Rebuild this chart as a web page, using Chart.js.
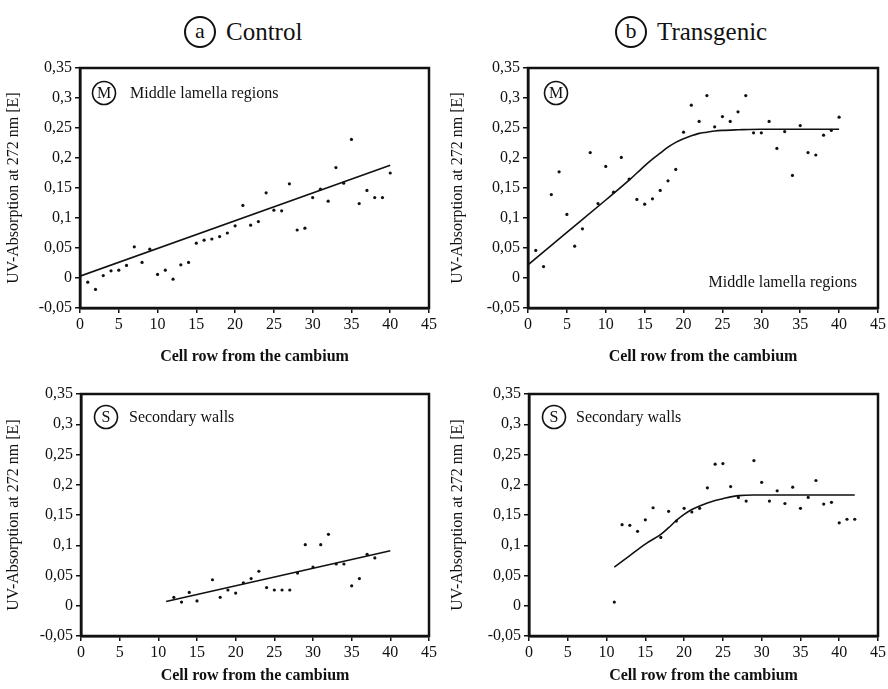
<!DOCTYPE html>
<html>
<head>
<meta charset="utf-8">
<script src="https://cdn.jsdelivr.net/npm/chart.js@4.4.1/dist/chart.umd.min.js"></script>
<style>
  html, body { margin: 0; padding: 0; background: #fff; overflow: hidden; }
  body { width: 888px; height: 689px; position: relative; font-family: "Liberation Serif", "Times New Roman", serif; }
  canvas { position: absolute; }
  .head { position: absolute; top: 14px; font-size: 25px; color: #111; line-height: 36px; }
  .ring { display: inline-block; width: 28px; height: 28px; border: 2px solid #111; border-radius: 50%;
          text-align: center; line-height: 26px; font-size: 22px; margin-right: 10px; vertical-align: 2px; }
</style>
</head>
<body>
<div class="head" style="left:184px"><span class="ring">a</span>Control</div>
<div class="head" style="left:615px"><span class="ring">b</span>Transgenic</div>
<canvas id="cMid" width="444" height="320" style="left:0;top:50px"></canvas>
<canvas id="tMid" width="444" height="320" style="left:444px;top:50px"></canvas>
<canvas id="cSec" width="444" height="313" style="left:0;top:376px"></canvas>
<canvas id="tSec" width="444" height="313" style="left:444px;top:376px"></canvas>
<script>
// tick labels
const xTickLabels = ['0', '5', '10', '15', '20', '25', '30', '35', '40', '45'];
const yTickLabels = ['-0,05', '0', '0,05', '0,1', '0,15', '0,2', '0,25', '0,3', '0,35'];

// (a) control, middle lamella
const ctrlMidRows = [1, 2, 3, 4, 5, 6, 7, 8, 9, 10, 11, 12, 13, 14, 15, 16, 17, 18, 19, 20,
  21, 22, 23, 24, 25, 26, 27, 28, 29, 30, 31, 32, 33, 34, 35, 36, 37, 38, 39, 40];
const ctrlMidValues = [-0.007, -0.019, 0.004, 0.012, 0.013, 0.021, 0.052, 0.026, 0.048, 0.006,
  0.013, -0.002, 0.022, 0.026, 0.058, 0.063, 0.065, 0.069, 0.075, 0.087,
  0.121, 0.088, 0.094, 0.142, 0.113, 0.112, 0.157, 0.080, 0.083, 0.134,
  0.148, 0.128, 0.184, 0.158, 0.231, 0.124, 0.146, 0.134, 0.134, 0.175];
const ctrlMidFitRows = [0, 40];
const ctrlMidFit = [0.003, 0.188];

// (b) transgenic, middle lamella
const trMidRows = [1, 2, 3, 4, 5, 6, 7, 8, 9, 10, 11, 12, 13, 14, 15, 16, 17, 18, 19, 20,
  21, 22, 23, 24, 25, 26, 27, 28, 29, 30, 31, 32, 33, 34, 35, 36, 37, 38, 39, 40];
const trMidValues = [0.046, 0.019, 0.139, 0.177, 0.106, 0.053, 0.082, 0.209, 0.124, 0.186,
  0.143, 0.201, 0.165, 0.131, 0.123, 0.132, 0.146, 0.162, 0.181, 0.243,
  0.288, 0.261, 0.304, 0.252, 0.269, 0.261, 0.277, 0.304, 0.242, 0.242,
  0.261, 0.216, 0.244, 0.171, 0.254, 0.209, 0.205, 0.238, 0.246, 0.268];
const trMidFitRows = [0, 5, 10, 13, 15, 16, 17, 18, 19, 20, 21, 22, 23, 24, 25, 27, 30, 40];
const trMidFit = [0.022, 0.076, 0.130, 0.163, 0.187, 0.198, 0.208, 0.218, 0.226, 0.232,
  0.237, 0.241, 0.243, 0.245, 0.246, 0.247, 0.248, 0.248];

// (a) control, secondary walls
const ctrlSecRows = [12, 13, 14, 15, 17, 18, 19, 20, 21, 22, 23, 24, 25, 26, 27, 28,
  29, 30, 31, 32, 33, 34, 35, 36, 37, 38];
const ctrlSecValues = [0.014, 0.006, 0.022, 0.008, 0.043, 0.014, 0.026, 0.021, 0.038, 0.045,
  0.057, 0.030, 0.026, 0.026, 0.026, 0.054, 0.101, 0.064, 0.101, 0.118,
  0.069, 0.069, 0.033, 0.045, 0.085, 0.079];
const ctrlSecFitRows = [11, 40];
const ctrlSecFit = [0.007, 0.091];

// (b) transgenic, secondary walls
const trSecRows = [11, 12, 13, 14, 15, 16, 17, 18, 19, 20, 21, 22, 23, 24, 25, 26,
  27, 28, 29, 30, 31, 32, 33, 34, 35, 36, 37, 38, 39, 40, 41, 42];
const trSecValues = [0.006, 0.134, 0.133, 0.123, 0.142, 0.162, 0.113, 0.156, 0.140, 0.161,
  0.155, 0.161, 0.195, 0.234, 0.235, 0.197, 0.179, 0.173, 0.240, 0.204,
  0.173, 0.190, 0.169, 0.196, 0.161, 0.179, 0.207, 0.168, 0.171, 0.137, 0.143, 0.143];
const trSecFitRows = [11, 13, 15, 17, 18, 19, 20, 21, 22, 23, 24, 25, 26, 27, 29, 42];
const trSecFit = [0.064, 0.083, 0.102, 0.118, 0.129, 0.141, 0.151, 0.159, 0.165, 0.170,
  0.174, 0.177, 0.180, 0.182, 0.183, 0.183];

const serif = '"Liberation Serif", "Times New Roman", serif';
const toXY = (xs, ys) => xs.map((x, i) => ({ x: x, y: ys[i] }));

// frame around plot + circled letter + panel label
const panelDeco = {
  id: 'panelDeco',
  afterDraw(chart, args, o) {
    const { ctx, chartArea: a } = chart;
    ctx.save();
    ctx.strokeStyle = '#111';
    ctx.lineWidth = 2.5;
    ctx.strokeRect(a.left, a.top, a.right - a.left, a.bottom - a.top);

    const cx = a.left + o.badgeX, cy = a.top + o.badgeY;
    ctx.lineWidth = 1.6;
    ctx.beginPath();
    ctx.arc(cx, cy, 11.5, 0, Math.PI * 2);
    ctx.stroke();
    ctx.fillStyle = '#111';
    ctx.textAlign = 'center';
    ctx.textBaseline = 'middle';
    ctx.font = '16px ' + serif;
    ctx.fillText(o.letter, cx, cy + 1);

    ctx.textAlign = o.labelAlign;
    const lx = o.labelAlign === 'right' ? a.right + o.labelX : a.left + o.labelX;
    const ly = o.labelFromBottom ? a.bottom + o.labelY : a.top + o.labelY;
    ctx.fillText(o.label, lx, ly + 1);
    ctx.restore();
  }
};

function makePanel(id, rows, values, fitRows, fit, deco) {
  const axisTitleFont = { family: serif, size: 16, weight: 'bold' };
  const tickFont = { family: serif, size: 16 };
  new Chart(document.getElementById(id), {
    type: 'scatter',
    data: {
      datasets: [
        {
          data: toXY(rows, values),
          pointRadius: 1.6,
          pointBackgroundColor: '#111',
          pointBorderWidth: 0,
          showLine: false
        },
        {
          data: toXY(fitRows, fit),
          showLine: true,
          pointRadius: 0,
          borderColor: '#111',
          borderWidth: 1.6,
          cubicInterpolationMode: 'monotone'
        }
      ]
    },
    options: {
      responsive: false,
      animation: false,
      layout: { padding: { left: 0, right: 444 - deco.right, top: 18, bottom: 0 } },
      plugins: {
        legend: { display: false },
        tooltip: { enabled: false },
        panelDeco: deco
      },
      scales: {
        x: {
          type: 'linear',
          min: 0,
          max: 45,
          afterFit: s => { s.height = deco.xHeight; },
          ticks: {
            stepSize: 5,
            color: '#111',
            font: tickFont,
            padding: 2,
            maxRotation: 0,
            callback: (v, i) => xTickLabels[i]
          },
          grid: { drawOnChartArea: false, drawTicks: true, tickLength: 5, color: '#111', lineWidth: 1.5 },
          border: { display: true, color: '#111', width: 2.5 },
          title: {
            display: true,
            text: 'Cell row from the cambium',
            color: '#111',
            font: axisTitleFont,
            padding: { top: 10 }
          }
        },
        y: {
          type: 'linear',
          min: -0.05,
          max: 0.35,
          afterFit: s => { s.width = deco.left; },
          ticks: {
            stepSize: 0.05,
            color: '#111',
            font: tickFont,
            padding: 3,
            callback: (v, i) => yTickLabels[i]
          },
          grid: { drawOnChartArea: false, drawTicks: true, tickLength: 5, color: '#111', lineWidth: 1.5 },
          border: { display: true, color: '#111', width: 2.5 },
          title: {
            display: true,
            text: 'UV-Absorption at 272 nm [E]',
            color: '#111',
            font: { family: serif, size: 16 },
            padding: { bottom: 2 }
          }
        }
      }
    },
    plugins: [panelDeco]
  });
}

makePanel('cMid', ctrlMidRows, ctrlMidValues, ctrlMidFitRows, ctrlMidFit, {
  left: 80, right: 429, xHeight: 62,
  letter: 'M', badgeX: 24, badgeY: 25,
  label: 'Middle lamella regions', labelAlign: 'left', labelX: 50, labelY: 25, labelFromBottom: false
});
makePanel('tMid', trMidRows, trMidValues, trMidFitRows, trMidFit, {
  left: 84, right: 434, xHeight: 62,
  letter: 'M', badgeX: 28, badgeY: 25,
  label: 'Middle lamella regions', labelAlign: 'right', labelX: -21, labelY: -26, labelFromBottom: true
});
makePanel('cSec', ctrlSecRows, ctrlSecValues, ctrlSecFitRows, ctrlSecFit, {
  left: 81, right: 429, xHeight: 53,
  letter: 'S', badgeX: 25, badgeY: 23,
  label: 'Secondary walls', labelAlign: 'left', labelX: 48, labelY: 23, labelFromBottom: false
});
makePanel('tSec', trSecRows, trSecValues, trSecFitRows, trSecFit, {
  left: 85, right: 434, xHeight: 53,
  letter: 'S', badgeX: 25, badgeY: 23,
  label: 'Secondary walls', labelAlign: 'left', labelX: 47, labelY: 23, labelFromBottom: false
});
</script>
</body>
</html>
